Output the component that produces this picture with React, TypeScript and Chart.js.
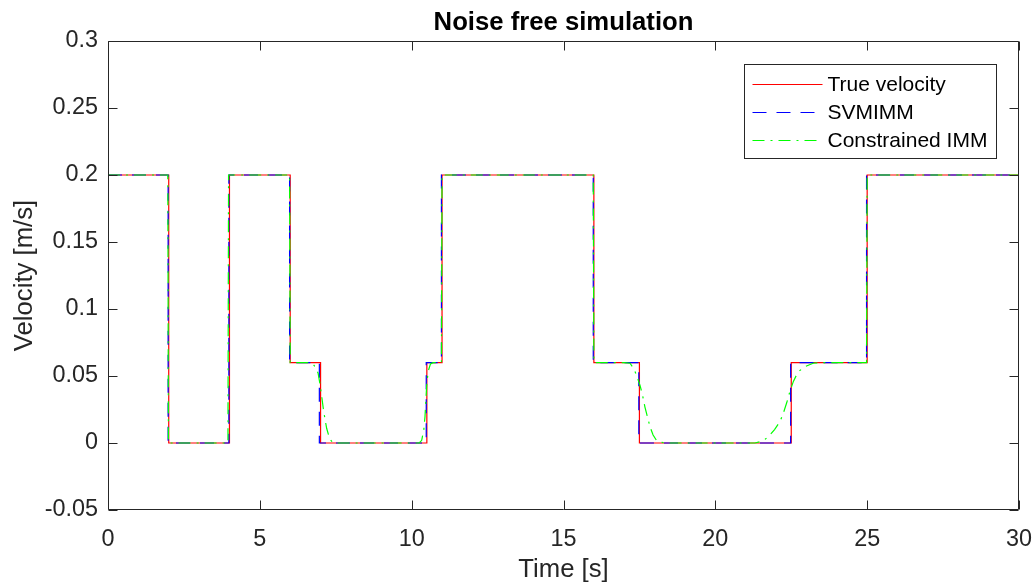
import React, { useEffect, useRef } from "react";
import { Chart, registerables } from "chart.js";

Chart.register(...registerables);

// ---- data ----
const trueTime = [0, 2, 2, 4, 4, 6, 6, 7, 7, 10.5, 10.5, 11, 11, 16, 16, 17.5, 17.5, 22.5, 22.5, 25, 25, 30];
const trueVel = [0.2, 0.2, 0, 0, 0.2, 0.2, 0.06, 0.06, 0, 0, 0.06, 0.06, 0.2, 0.2, 0.06, 0.06, 0, 0, 0.06, 0.06, 0.2, 0.2];

const svmTime = [0, 1.98, 1.98, 3.98, 3.98, 5.98, 5.98, 6.96, 6.96, 10.48, 10.48, 10.98, 10.98, 15.98, 15.98, 17.48, 17.48, 22.48, 22.48, 24.98, 24.98, 30];
const svmVel = [0.2, 0.2, 0, 0, 0.2, 0.2, 0.06, 0.06, 0, 0, 0.06, 0.06, 0.2, 0.2, 0.06, 0.06, 0, 0, 0.06, 0.06, 0.2, 0.2];

const cimmTime = [
  0, 1.97, 1.99, 3.95, 3.97, 5.98, 6.0, 6.6, 6.75, 6.85, 6.92, 6.98, 7.03, 7.1, 7.2, 7.3, 7.4, 7.5,
  10.25, 10.33, 10.4, 10.44, 10.47, 10.5, 10.55, 10.62, 10.7, 10.98, 11.0, 15.98, 16.0,
  17.0, 17.19, 17.3, 17.4, 17.52, 17.6, 17.68, 17.77, 17.85, 17.95, 18.06, 18.2, 18.4,
  21.3, 21.47, 21.65, 21.8, 21.95, 22.13, 22.25, 22.35, 22.45, 22.57, 22.68, 22.78, 22.95, 23.22, 23.5,
  24.98, 25.0, 30,
];
const cimmVel = [
  0.2, 0.2, 0, 0, 0.2, 0.2, 0.06, 0.06, 0.059, 0.056, 0.052, 0.044, 0.036, 0.024, 0.011, 0.003, 0.0005, 0,
  0, 0.002, 0.01, 0.02, 0.033, 0.045, 0.054, 0.059, 0.06, 0.06, 0.2, 0.2, 0.06,
  0.06, 0.0595, 0.056, 0.051, 0.043, 0.036, 0.027, 0.019, 0.012, 0.006, 0.002, 0.0005, 0,
  0, 0.001, 0.003, 0.006, 0.01, 0.016, 0.023, 0.03, 0.038, 0.046, 0.051, 0.054, 0.057, 0.0595, 0.06,
  0.06, 0.2, 0.2,
];

const xTicks = [0, 5, 10, 15, 20, 25, 30];
const xTickLabels = ["0", "5", "10", "15", "20", "25", "30"];
const yTicks = [-0.05, 0, 0.05, 0.1, 0.15, 0.2, 0.25, 0.3];
const yTickLabels = ["-0.05", "0", "0.05", "0.1", "0.15", "0.2", "0.25", "0.3"];

const seriesNames = ["True velocity", "SVMIMM", "Constrained IMM"];
const seriesColors = ["#ff0000", "#0000ff", "#00ff00"];
const seriesDashes: number[][] = [[], [14, 10], [12, 6, 2, 6]];

const titleText = "Noise free simulation";
const xTitle = "Time [s]";
const yTitle = "Velocity [m/s]";

const FONT = "'Liberation Sans', Arial, Helvetica, sans-serif";
const AXIS_COLOR = "#262626";

const toPoints = (t: number[], v: number[]) => t.map((x, i) => ({ x, y: v[i] }));

const framePlugin = {
  id: "matlabFrame",
  afterDraw(chart: any) {
    const { ctx, chartArea: a, scales } = chart;
    const xs = scales.x;
    const ys = scales.y;
    ctx.save();

    // title, centred over the plot area
    ctx.fillStyle = "#000000";
    ctx.font = `bold 25.7px ${FONT}`;
    ctx.textAlign = "center";
    ctx.textBaseline = "alphabetic";
    ctx.fillText(titleText, (a.left + a.right) / 2, 30);

    ctx.strokeStyle = AXIS_COLOR;
    ctx.lineWidth = 1;
    ctx.setLineDash([]);
    const L = Math.round(a.left) + 0.5;
    const R = Math.round(a.right) - 0.5;
    const T = Math.round(a.top) + 0.5;
    const B = Math.round(a.bottom) - 0.5;
    ctx.beginPath();
    ctx.rect(L, T, R - L, B - T);
    const tl = 9;
    xTicks.forEach((v) => {
      const p = Math.round(xs.getPixelForValue(v)) + 0.5;
      ctx.moveTo(p, B);
      ctx.lineTo(p, B - tl);
      ctx.moveTo(p, T);
      ctx.lineTo(p, T + tl);
    });
    yTicks.forEach((v) => {
      const p = Math.round(ys.getPixelForValue(v)) + 0.5;
      ctx.moveTo(L, p);
      ctx.lineTo(L + tl, p);
      ctx.moveTo(R, p);
      ctx.lineTo(R - tl, p);
    });
    ctx.stroke();

    // legend
    const lw = 252;
    const lh = 94;
    const lx = Math.round(a.right - 23 - lw) + 0.5;
    const ly = Math.round(a.top + 23) + 0.5;
    ctx.fillStyle = "#ffffff";
    ctx.fillRect(lx, ly, lw, lh);
    ctx.strokeStyle = AXIS_COLOR;
    ctx.strokeRect(lx, ly, lw, lh);
    ctx.font = `21px ${FONT}`;
    ctx.textBaseline = "middle";
    ctx.textAlign = "left";
    seriesNames.forEach((name, i) => {
      const cy = Math.round(ly + 19.5 + i * 28);
      ctx.beginPath();
      ctx.strokeStyle = seriesColors[i];
      ctx.lineWidth = 1.2;
      ctx.setLineDash(seriesDashes[i]);
      ctx.moveTo(lx + 8, cy + 0.5);
      ctx.lineTo(lx + 78, cy + 0.5);
      ctx.stroke();
      ctx.setLineDash([]);
      ctx.fillStyle = "#000000";
      ctx.fillText(name, lx + 83, cy + 1);
    });
    ctx.restore();
  },
};

export default function App() {
  const ref = useRef<HTMLCanvasElement | null>(null);

  useEffect(() => {
    if (!ref.current) return;
    const series = [
      toPoints(trueTime, trueVel),
      toPoints(svmTime, svmVel),
      toPoints(cimmTime, cimmVel),
    ];
    const chart = new Chart(ref.current, {
      type: "line",
      data: {
        datasets: series.map((pts, i) => ({
          label: seriesNames[i],
          data: pts,
          borderColor: seriesColors[i],
          backgroundColor: seriesColors[i],
          borderWidth: 1.2,
          borderDash: seriesDashes[i],
          pointRadius: 0,
          tension: 0,
          fill: false,
          order: 3 - i,
        })),
      },
      options: {
        animation: false,
        responsive: false,
        devicePixelRatio: 1,
        layout: { padding: { left: 0, right: 16, top: 41, bottom: 0 } },
        plugins: {
          legend: { display: false },
          tooltip: { enabled: false },
          title: { display: false },
        },
        scales: {
          x: {
            type: "linear",
            min: 0,
            max: 30,
            afterBuildTicks: (s: any) => {
              s.ticks = xTicks.map((v) => ({ value: v }));
            },
            afterFit: (s: any) => {
              s.height = 78;
              s.paddingLeft = 0;
              s.paddingRight = 0;
            },
            ticks: {
              callback: (v: any) => xTickLabels[xTicks.indexOf(Number(v))] ?? "",
              color: AXIS_COLOR,
              font: { family: FONT, size: 23.4 },
              padding: 16,
              maxRotation: 0,
              autoSkip: false,
            },
            grid: { display: false, drawTicks: false },
            border: { display: false },
            title: {
              display: true,
              text: xTitle,
              color: AXIS_COLOR,
              font: { family: FONT, size: 25.7, lineHeight: 1.2 },
              padding: { top: 0, bottom: 3 },
            },
          },
          y: {
            type: "linear",
            min: -0.05,
            max: 0.3,
            afterBuildTicks: (s: any) => {
              s.ticks = yTicks.map((v) => ({ value: v }));
            },
            afterFit: (s: any) => {
              s.width = 108;
              s.paddingTop = 0;
              s.paddingBottom = 0;
            },
            ticks: {
              callback: (v: any) => {
                const idx = yTicks.findIndex((t) => Math.abs(t - Number(v)) < 1e-9);
                return idx >= 0 ? yTickLabels[idx] : "";
              },
              color: AXIS_COLOR,
              font: { family: FONT, size: 23.4 },
              padding: 10,
              autoSkip: false,
            },
            grid: { display: false, drawTicks: false },
            border: { display: false },
            title: {
              display: true,
              text: yTitle,
              color: AXIS_COLOR,
              font: { family: FONT, size: 25.7, lineHeight: 1.2 },
              padding: { top: 9, bottom: 0 },
            },
          },
        },
      },
      plugins: [framePlugin],
    } as any);
    return () => chart.destroy();
  }, []);

  return (
    <div style={{ position: "absolute", left: 0, top: 0, width: 1035, height: 588, background: "#ffffff" }}>
      <canvas ref={ref} width={1035} height={588} style={{ display: "block" }} />
    </div>
  );
}
